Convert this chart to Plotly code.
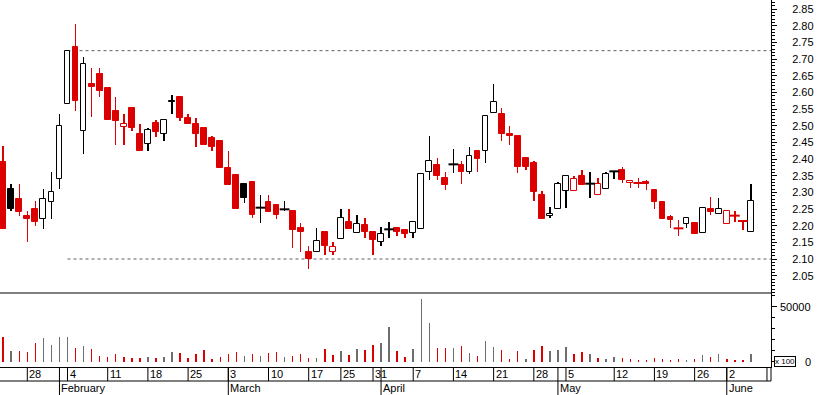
import plotly.graph_objects as go

# ---------------- data ----------------
opens = [2.39, 2.31, 2.28, 2.23, 2.25, 2.22, 2.27, 2.34, 2.565, 2.735,
         2.485, 2.625, 2.655, 2.613, 2.545, 2.495, 2.553, 2.475, 2.444, 2.508,
         2.474, 2.574, 2.586, 2.523, 2.505, 2.493, 2.463, 2.454, 2.373, 2.352,
         2.325, 2.331, 2.254, 2.271, 2.262, 2.249, 2.244, 2.193, 2.121, 2.122,
         2.181, 2.122, 2.161, 2.211, 2.179, 2.202, 2.181, 2.152, 2.189, 2.193,
         2.187, 2.179, 2.191, 2.362, 2.382, 2.343, 2.384, 2.382, 2.362, 2.424,
         2.423, 2.539, 2.535, 2.475, 2.469, 2.403, 2.388, 2.292, 2.228, 2.249,
         2.303, 2.303, 2.348, 2.326, 2.291, 2.309, 2.363, 2.367, 2.327, 2.328,
         2.331, 2.307, 2.271, 2.226, 2.192, 2.204, 2.208, 2.177, 2.249, 2.234,
         2.204, 2.23, 2.214, 2.18]
highs = [2.44, 2.325, 2.325, 2.245, 2.275, 2.31, 2.36, 2.535, 2.725, 2.805,
         2.705, 2.673, 2.673, 2.613, 2.585, 2.535, 2.553, 2.505, 2.492, 2.517,
         2.516, 2.592, 2.586, 2.535, 2.523, 2.493, 2.469, 2.454, 2.424, 2.352,
         2.325, 2.331, 2.292, 2.292, 2.262, 2.274, 2.244, 2.208, 2.139, 2.193,
         2.181, 2.151, 2.25, 2.25, 2.232, 2.223, 2.181, 2.196, 2.211, 2.193,
         2.187, 2.21, 2.354, 2.469, 2.403, 2.361, 2.43, 2.394, 2.436, 2.424,
         2.528, 2.625, 2.553, 2.499, 2.469, 2.403, 2.394, 2.304, 2.256, 2.33,
         2.348, 2.348, 2.367, 2.361, 2.342, 2.36, 2.363, 2.376, 2.337, 2.343,
         2.337, 2.307, 2.271, 2.232, 2.217, 2.222, 2.208, 2.252, 2.286, 2.283,
         2.243, 2.244, 2.214, 2.325]
lows = [2.19, 2.245, 2.23, 2.15, 2.20, 2.19, 2.22, 2.31, 2.565, 2.545,
        2.415, 2.525, 2.587, 2.518, 2.443, 2.443, 2.485, 2.425, 2.425, 2.467,
        2.455, 2.536, 2.515, 2.506, 2.437, 2.443, 2.425, 2.374, 2.323, 2.251,
        2.269, 2.224, 2.209, 2.242, 2.22, 2.245, 2.133, 2.121, 2.07, 2.122,
        2.112, 2.112, 2.161, 2.19, 2.179, 2.163, 2.112, 2.139, 2.163, 2.169,
        2.163, 2.163, 2.191, 2.337, 2.337, 2.307, 2.358, 2.325, 2.356, 2.361,
        2.388, 2.539, 2.454, 2.442, 2.358, 2.367, 2.274, 2.22, 2.222, 2.249,
        2.254, 2.303, 2.323, 2.284, 2.291, 2.309, 2.339, 2.327, 2.314, 2.314,
        2.307, 2.25, 2.221, 2.193, 2.17, 2.194, 2.176, 2.177, 2.232, 2.234,
        2.204, 2.212, 2.187, 2.18]
closes = [2.19, 2.25, 2.24, 2.22, 2.21, 2.28, 2.30, 2.50, 2.725, 2.575,
          2.685, 2.615, 2.605, 2.518, 2.515, 2.505, 2.494, 2.425, 2.488, 2.482,
          2.516, 2.570, 2.524, 2.506, 2.476, 2.443, 2.437, 2.374, 2.323, 2.251,
          2.284, 2.233, 2.254, 2.242, 2.232, 2.249, 2.187, 2.181, 2.101, 2.153,
          2.139, 2.135, 2.222, 2.19, 2.204, 2.181, 2.157, 2.175, 2.189, 2.181,
          2.176, 2.21, 2.354, 2.394, 2.349, 2.322, 2.384, 2.361, 2.408, 2.401,
          2.528, 2.57, 2.475, 2.47, 2.376, 2.376, 2.301, 2.22, 2.234, 2.325,
          2.348, 2.339, 2.323, 2.326, 2.324, 2.354, 2.363, 2.338, 2.333, 2.328,
          2.324, 2.272, 2.221, 2.218, 2.192, 2.222, 2.176, 2.252, 2.242, 2.249,
          2.243, 2.23, 2.214, 2.273]
volumes = [22270, 9545, 9545, 8640, 16820, 21360, 15000, 22270, 22270, 12270,
           14090, 11360, 5000, 4090, 6820, 4090, 3180, 3180, 4090, 3180,
           4090, 8640, 7730, 3180, 6820, 10450, 2270, 4090, 6820, 8640,
           5000, 6820, 5000, 7730, 8640, 4090, 5000, 6820, 3180, 3180,
           11360, 5910, 9545, 5910, 11360, 10450, 15000, 16820, 31360, 9545,
           4090, 11360, 56800, 35000, 12270, 12270, 12270, 14090, 7730, 5000,
           18640, 13180, 10450, 2270, 9545, 2270, 10450, 14090, 9545, 10450,
           13180, 6820, 8640, 6820, 3180, 2270, 4090, 3180, 2270, 1670,
           760, 3180, 2270, 1060, 2270, 1060, 2270, 5910, 4090, 6820,
           2270, 1360, 1670, 6820]
prev_close_before_first = 2.30   # estimated (first candle is drawn red)

range_high = 2.725   # upper dotted trading-range line
range_low = 2.10     # lower dotted trading-range line
range_start = 8      # candle index where the dotted lines begin

week_tick_index = [3, 8, 13, 18, 23, 28, 33, 38, 42, 46, 51, 56, 61, 66, 70, 76, 81, 86, 90, 95]
week_tick_label = ["28", "4", "11", "18", "25", "3", "10", "17", "25", "31",
                   "7", "14", "21", "28", "5", "12", "19", "26", "2", "9"]
month_index = [7, 28, 47, 69, 90]
month_label = ["February", "March", "April", "May", "June"]

price_ticks = [2.05, 2.10, 2.15, 2.20, 2.25, 2.30, 2.35, 2.40, 2.45, 2.50,
               2.55, 2.60, 2.65, 2.70, 2.75, 2.80, 2.85]
volume_ticks = [0, 50000]
volume_tick_text = ["0", "50000"]
volume_unit = "x 100"

# ---------------- styling ----------------
RED = "#DC0000"
BLACK = "#000000"
GREY = "#6E6E6E"
FONT = "Liberation Sans, Arial, sans-serif"

W, H = 817, 395
ML, MR, MT, MB = 0, 46, 0, 28
plot_h = H - MT - MB          # 367
vol_h = 74
split = vol_h / plot_h

n = len(closes)
idx = list(range(n))
prev = [prev_close_before_first] + closes[:-1]
cand_col = [RED if c <= p else BLACK for c, p in zip(closes, prev)]
vol_col = [RED if c < p else GREY for c, p in zip(closes, prev)]

body_x, body_base, body_h, body_fill, body_line = [], [], [], [], []
doji_x, doji_y, doji_col = [], [], []
for i in idx:
    o, c = opens[i], closes[i]
    if abs(o - c) < 1e-9:
        doji_x.append(i); doji_y.append(c); doji_col.append(cand_col[i])
    else:
        body_x.append(i)
        body_base.append(min(o, c))
        body_h.append(abs(c - o))
        body_fill.append(cand_col[i] if c < o else "#FFFFFF")
        body_line.append(cand_col[i])

fig = go.Figure()
fig.add_trace(go.Bar(x=idx, base=lows, y=[h - l for h, l in zip(highs, lows)],
                     width=0.06, marker=dict(color=cand_col, line=dict(width=0)),
                     yaxis="y", hoverinfo="skip"))
fig.add_trace(go.Bar(x=body_x, base=body_base, y=body_h, width=0.72,
                     marker=dict(color=body_fill, line=dict(color=body_line, width=1)),
                     yaxis="y", hoverinfo="skip"))
fig.add_trace(go.Scatter(x=doji_x, y=doji_y, mode="markers",
                         marker=dict(symbol="line-ew", size=7,
                                     line=dict(color=doji_col, width=2)),
                         yaxis="y", hoverinfo="skip"))
fig.add_trace(go.Bar(x=idx, y=volumes, width=0.06,
                     marker=dict(color=vol_col, line=dict(width=0)),
                     yaxis="y2", hoverinfo="skip"))

x_min, x_max = -0.396, 95.5

shapes = []
# dotted trading-range lines
for lvl in (range_high, range_low):
    shapes.append(dict(type="line", xref="x", yref="y", x0=range_start, x1=x_max,
                       y0=lvl, y1=lvl, layer="below",
                       line=dict(color="#606060", width=1, dash="3px,3px")))
# separator between price and volume panels
shapes.append(dict(type="line", xref="paper", yref="paper", x0=0, x1=1,
                   y0=split, y1=split, line=dict(color=BLACK, width=1)))
# date-axis rows
row1 = -14 / plot_h
row2 = -28 / plot_h
shapes.append(dict(type="line", xref="paper", yref="paper", x0=0, x1=1,
                   y0=row1, y1=row1, line=dict(color=BLACK, width=1)))
shapes.append(dict(type="line", xref="paper", yref="paper", x0=1, x1=1,
                   y0=0, y1=row1, line=dict(color=BLACK, width=1)))
for xi in week_tick_index:
    shapes.append(dict(type="line", xref="x", yref="paper", x0=xi, x1=xi,
                       y0=0, y1=row1, line=dict(color=BLACK, width=1)))
for xi in month_index:
    shapes.append(dict(type="line", xref="x", yref="paper", x0=xi, x1=xi,
                       y0=0, y1=row2, line=dict(color=BLACK, width=1)))

annotations = []
for xi, lab in zip(week_tick_index, week_tick_label):
    if xi > n - 1:
        continue
    annotations.append(dict(x=xi, y=-7.3 / plot_h, xref="x", yref="paper",
                            text=lab, showarrow=False, xanchor="left", yanchor="middle",
                            xshift=0, font=dict(family=FONT, size=11, color=BLACK)))
for xi, lab in zip(month_index, month_label):
    annotations.append(dict(x=xi, y=-21.5 / plot_h, xref="x", yref="paper",
                            text=lab, showarrow=False, xanchor="left", yanchor="middle",
                            xshift=0, font=dict(family=FONT, size=11, color=BLACK)))
plot_w = W - ML - MR
for v, t in zip(volume_ticks, volume_tick_text):
    annotations.append(dict(x=813 / plot_w, y=v, xref="paper", yref="y2", text=t,
                            showarrow=False, xanchor="right", yanchor="middle",
                            font=dict(family=FONT, size=11, color=BLACK)))
annotations.append(dict(x=784.5 / plot_w, y=0, xref="paper", yref="y2", text=volume_unit,
                        showarrow=False, xanchor="center", yanchor="middle",
                        bordercolor=BLACK, borderwidth=1, borderpad=0, bgcolor="#FFFFFF",
                        font=dict(family=FONT, size=8, color=BLACK)))

fig.update_layout(
    width=W, height=H,
    margin=dict(l=ML, r=MR, t=MT, b=MB, pad=0),
    paper_bgcolor="#FFFFFF", plot_bgcolor="#FFFFFF",
    showlegend=False, barmode="overlay", bargap=0, bargroupgap=0,
    font=dict(family=FONT, size=11, color=BLACK),
    xaxis=dict(domain=[0, 1], range=[x_min, x_max], anchor="y2",
               showline=True, linecolor=BLACK, linewidth=1, ticks="",
               showticklabels=False, showgrid=False, zeroline=False, fixedrange=True),
    yaxis=dict(domain=[split, 1], anchor="x", side="right", range=[1.998, 2.877],
               showline=True, linecolor=BLACK, linewidth=1,
               tickmode="array", tickvals=price_ticks,
               ticktext=[f"{v:.2f}" for v in price_ticks],
               ticks="outside", ticklen=5, tickwidth=1, tickcolor=BLACK,
               ticklabelstandoff=13,
               tickfont=dict(family=FONT, size=11, color=BLACK),
               minor=dict(tickmode="linear", tick0=2.0, dtick=0.01, ticks="outside",
                          ticklen=3, tickwidth=1, tickcolor=BLACK, showgrid=False),
               showgrid=False, zeroline=False, fixedrange=True),
    yaxis2=dict(domain=[0, split], anchor="x", side="right", range=[-5000, 62270],
                showline=True, linecolor=BLACK, linewidth=1,
                tickmode="array", tickvals=volume_ticks, showticklabels=False,
                ticks="outside", ticklen=5, tickwidth=1, tickcolor=BLACK,
                minor=dict(tickmode="linear", tick0=0, dtick=10000, ticks="outside",
                           ticklen=3, tickwidth=1, tickcolor=BLACK, showgrid=False),
                showgrid=False, zeroline=False, fixedrange=True),
    shapes=shapes,
    annotations=annotations,
)

fig.write_html(
    "out.html",
    config={"displayModeBar": False, "staticPlot": False},
    post_script="document.body.style.margin='0px';document.body.style.padding='0px';"
                "document.body.style.overflow='hidden';",
)
